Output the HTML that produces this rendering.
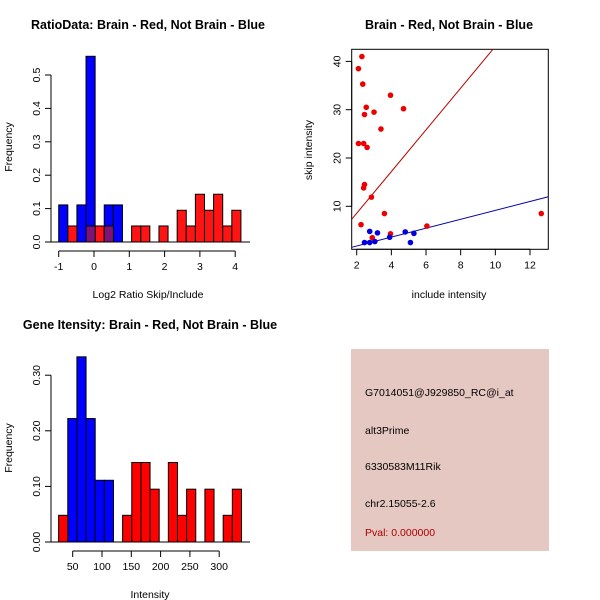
<!DOCTYPE html>
<html><head><meta charset="utf-8"><style>
body{margin:0;background:#fff}
svg{display:block;font-family:"Liberation Sans",sans-serif}
</style></head><body>
<svg id="s" width="600" height="600" xmlns="http://www.w3.org/2000/svg">
<rect width="600" height="600" fill="#fff"/>
<text x="148" y="29" font-size="12.5" font-weight="bold" text-anchor="middle">RatioData: Brain - Red, Not Brain - Blue</text>
<text x="449" y="29" font-size="12.5" font-weight="bold" text-anchor="middle">Brain - Red, Not Brain - Blue</text>
<text x="150" y="329" font-size="12.5" font-weight="bold" text-anchor="middle">Gene Itensity: Brain - Red, Not Brain - Blue</text>
<text x="148" y="298" font-size="10.5" text-anchor="middle">Log2 Ratio Skip/Include</text>
<text x="12" y="147" font-size="10.5" text-anchor="middle" transform="rotate(-90 12 147)">Frequency</text>
<text x="449" y="298" font-size="10.5" text-anchor="middle">include intensity</text>
<text x="312" y="150" font-size="10.5" text-anchor="middle" transform="rotate(-90 312 150)">skip intensity</text>
<text x="150" y="598" font-size="10.5" text-anchor="middle">Intensity</text>
<text x="12" y="448" font-size="10.5" text-anchor="middle" transform="rotate(-90 12 448)">Frequency</text>
<g id="p1"></g>
<g id="p2"></g>
<g id="p3"></g>
<g>
<rect x="351" y="349" width="198" height="202" fill="#e6c8c2"/>
<g font-size="10.5">
<text x="365" y="396">G7014051@J929850_RC@i_at</text>
<text x="365" y="434">alt3Prime</text>
<text x="365" y="470">6330583M11Rik</text>
<text x="365" y="507">chr2.15055-2.6</text>
<text x="365" y="536" fill="#aa0000">Pval: 0.000000</text>
</g></g>
</svg>
<script>
// Ratio histogram data
const ratioRedStart=-0.74, ratioBlueStart=-1.0, ratioBin=0.258;
const ratioRed=[0.048,0,0.048,0.048,0.048,0,0,0.048,0.048,0,0.048,0,0.095,0.048,0.143,0.095,0.143,0.048,0.095];
const ratioBlue=[0.111,0,0.111,0.556,0,0.111,0.111];
const ratioXTicks=[-1,0,1,2,3,4];
const ratioYTicks=[0,0.1,0.2,0.3,0.4,0.5];
const ratioYLabels=["0.0","0.1","0.2","0.3","0.4","0.5"];
// Scatter data
const redX=[2.1,2.3,2.35,2.55,2.45,3.0,2.1,2.4,2.6,3.4,3.95,4.7,2.4,2.45,2.85,3.6,2.25,6.05,3.95,2.9,12.65];
const redY=[38.5,41,35.3,30.5,29,29.5,23,23,22.2,26,33,30.2,13.8,14.5,11.9,8.5,6.2,5.9,4.3,3.5,8.5];
const blueX=[2.75,3.2,2.45,2.75,3.05,3.9,4.8,5.3,5.1];
const blueY=[4.8,4.5,2.5,2.5,2.7,3.6,4.7,4.4,2.5];
const redFit=[-0.09,4.32];
const blueFit=[-0.07,0.923];
const scXTicks=[2,4,6,8,10,12];
const scYTicks=[10,20,30,40];
// Gene histogram data
const geneRedStart=26, geneBlueStart=41.6, geneBin=15.6;
const geneRed=[0.048,0,0,0,0,0,0,0.048,0.143,0.143,0.095,0,0.143,0.048,0.095,0,0.095,0,0.048,0.095];
const geneBlue=[0.222,0.333,0.222,0.111,0.111];
const geneXTicks=[50,100,150,200,250,300];
const geneYTicks=[0,0.1,0.2,0.3];
const geneYLabels=["0.00","0.10","0.20","0.30"];

const NS="http://www.w3.org/2000/svg";
function mk(p,t,a){const e=document.createElementNS(NS,t);for(const k in a)e.setAttribute(k,a[k]);p.appendChild(e);return e;}
function yAxis(g,x,ticks,labels,ys,name){
  const y0=ys(ticks[0]),y1=ys(ticks[ticks.length-1]);
  const ax=mk(g,'line',{x1:x,x2:x,y1:y0,y2:y1,stroke:'#000'});
  
  
  ticks.forEach((t,i)=>{
    mk(g,'line',{x1:x-6,x2:x,y1:ys(t),y2:ys(t),stroke:'#000'});
    const tx=mk(g,'text',{x:x-11,y:ys(t),'font-size':'10.5','text-anchor':'middle',transform:`rotate(-90 ${x-11} ${ys(t)})`});
    tx.textContent=labels[i];
    
    
  });
}
function xAxis(g,y,ticks,labels,xs,name){
  const ax=mk(g,'line',{x1:xs(ticks[0]),x2:xs(ticks[ticks.length-1]),y1:y,y2:y,stroke:'#000'});
  
  
  ticks.forEach((t,i)=>{
    mk(g,'line',{x1:xs(t),x2:xs(t),y1:y,y2:y+6,stroke:'#000'});
    const tx=mk(g,'text',{x:xs(t),y:y+19,'font-size':'10.5','text-anchor':'middle'});
    tx.textContent=labels[i];
    
    
  });
}
function bars(g,vals,start,bin,xs,ys,fill,name){
  vals.forEach((v,i)=>{if(v<=0)return;
    const xa=xs(start+i*bin),xb=xs(start+(i+1)*bin);
    const r=mk(g,'rect',{x:xa,y:ys(v),width:xb-xa,height:ys(0)-ys(v),fill:fill,stroke:'#000','stroke-width':1});
    
    
  });
}
// Panel 1
(function(){
  const g=document.getElementById('p1');
  const xs=v=>58.7+(v+1)*35.3, ys=v=>242-v*334;
  bars(g,ratioBlue,ratioBlueStart,ratioBin,xs,ys,'#0000ff','ratio-blue-bar');
  bars(g,ratioRed,ratioRedStart,ratioBin,xs,ys,'rgba(255,0,0,0.92)','ratio-red-bar');
  ratioRed.forEach((v,i)=>{
    const a=ratioRedStart+i*ratioBin;
    ratioBlue.forEach((b,j)=>{const bs=ratioBlueStart+j*ratioBin;
      if(v>0&&b>0&&Math.abs(bs-a)<ratioBin/2){
        const r=mk(g,'rect',{x:xs(a),y:ys(Math.min(v,b)),width:xs(a+ratioBin)-xs(a),height:ys(0)-ys(Math.min(v,b)),fill:'#80107a',stroke:'#000'});
        
        
      }});
  });
  mk(g,'line',{x1:51,x2:250,y1:242,y2:242,stroke:'#000'});
  yAxis(g,51,ratioYTicks,ratioYLabels,ys,'ratio-y-axis');
  xAxis(g,251,ratioXTicks,ratioXTicks.map(String),xs,'ratio-x-axis');
})();
// Panel 2
(function(){
  const g=document.getElementById('p2');
  const xs=v=>356.7+(v-2)*17.33, ys=v=>206.3-(v-10)*4.83;
  const x0=1.71,x1=13.06;
  mk(g,'rect',{x:351.7,y:49.3,width:196.6,height:200,fill:'none',stroke:'#000'});
  const cp=mk(g,'clipPath',{id:'cp'});mk(cp,'rect',{x:351.7,y:49.3,width:196.6,height:200});
  const l1=mk(g,'line',{x1:xs(x0),y1:ys(redFit[0]+redFit[1]*x0),x2:xs(x1),y2:ys(redFit[0]+redFit[1]*x1),stroke:'#bb0000','clip-path':'url(#cp)'});
  
  
  const l2=mk(g,'line',{x1:xs(x0),y1:ys(blueFit[0]+blueFit[1]*x0),x2:xs(x1),y2:ys(blueFit[0]+blueFit[1]*x1),stroke:'#0000aa','clip-path':'url(#cp)'});
  
  
  redX.forEach((x,i)=>{const c=mk(g,'circle',{cx:xs(x),cy:ys(redY[i]),r:2.8,fill:'#ee0000'});
    
    });
  blueX.forEach((x,i)=>{const c=mk(g,'circle',{cx:xs(x),cy:ys(blueY[i]),r:2.8,fill:'#0000dd'});
    
    });
  yAxis(g,351.7,scYTicks,scYTicks.map(String),ys,'scatter-y-axis');
  xAxis(g,249.3,scXTicks,scXTicks.map(String),xs,'scatter-x-axis');
})();
// Panel 3
(function(){
  const g=document.getElementById('p3');
  const xs=v=>72.7+(v-50)*0.586, ys=v=>542-v*556;
  bars(g,geneBlue,geneBlueStart,geneBin,xs,ys,'#0000ff','gene-blue-bar');
  bars(g,geneRed,geneRedStart,geneBin,xs,ys,'#ff0000','gene-red-bar');
  mk(g,'line',{x1:51,x2:250,y1:542,y2:542,stroke:'#000'});
  yAxis(g,51,geneYTicks,geneYLabels,ys,'gene-y-axis');
  xAxis(g,551,geneXTicks,geneXTicks.map(String),xs,'gene-x-axis');
})();
</script>
</body></html>
